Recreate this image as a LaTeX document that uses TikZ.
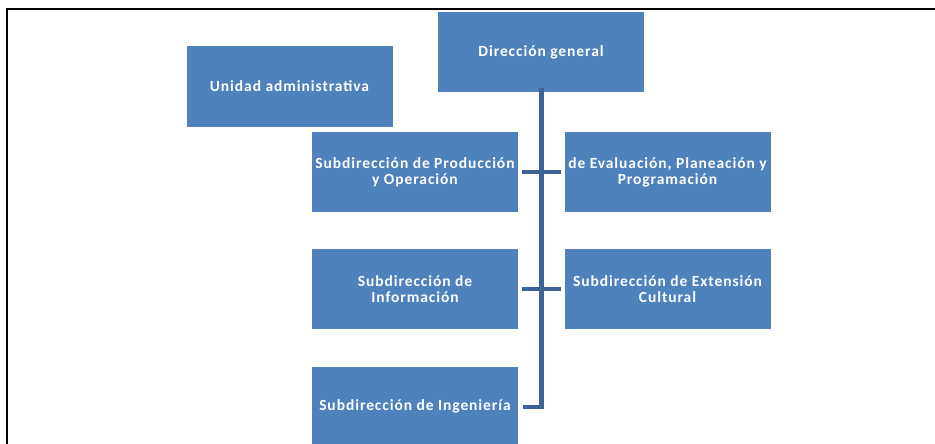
\documentclass[tikz,border=0pt]{standalone}
\usepackage{fontspec}
\setmainfont{Carlito}
\newfontfamily\boxfont[LetterSpace=6,BoldFont={Carlito Bold}]{Carlito}
\definecolor{boxblue}{HTML}{4F81BD}
\definecolor{linkblue}{HTML}{3C6496}
\begin{document}
\begin{tikzpicture}[x=1pt,y=-1pt,
  unit/.style={draw=none,fill=boxblue,minimum width=206pt,minimum height=80pt,
    inner sep=0pt,align=center,text=white,
    font=\boxfont\bfseries\fontsize{15.5}{16}\selectfont},
  trunk/.style={draw=linkblue,line width=5pt},
  branch/.style={draw=linkblue,line width=4pt}]
\useasboundingbox (0,0) rectangle (935,444);
\begin{scope}
\clip (0,0) rectangle (935,444);
\node[unit] (dg) at (541,52.5) {Dirección general};
\node[unit] (ua) at (289.5,86.5) {Unidad administrativa};
\node[unit] (spo) at (415,172) {Subdirección de Producción\\y Operación};
\node[unit] (sep) at (667.5,172) {de Evaluación, Planeación y\\Programación};
\node[unit] (si) at (415,289) {Subdirección de\\Información};
\node[unit] (sec) at (667.5,289) {Subdirección de Extensión\\Cultural};
\node[unit] (sing) at (415,406.5) {Subdirección de Ingeniería};
\coordinate (top) at ([yshift=5pt]dg.south);
\coordinate (bend) at (top |- sing.east);
\draw[trunk] (top) -- ([yshift=-2pt]bend);
\draw[branch] ([xshift=4pt]spo.east) -- ([xshift=-3pt]sep.west);
\draw[branch] ([xshift=4pt]si.east) -- ([xshift=-3pt]sec.west);
\draw[branch] ([xshift=5pt]sing.east) -- ([xshift=2.5pt]bend);
\draw[black,line width=2pt] (935,9.5) -- (6.5,9.5) -- (6.5,444);
\end{scope}
\end{tikzpicture}
\end{document}
